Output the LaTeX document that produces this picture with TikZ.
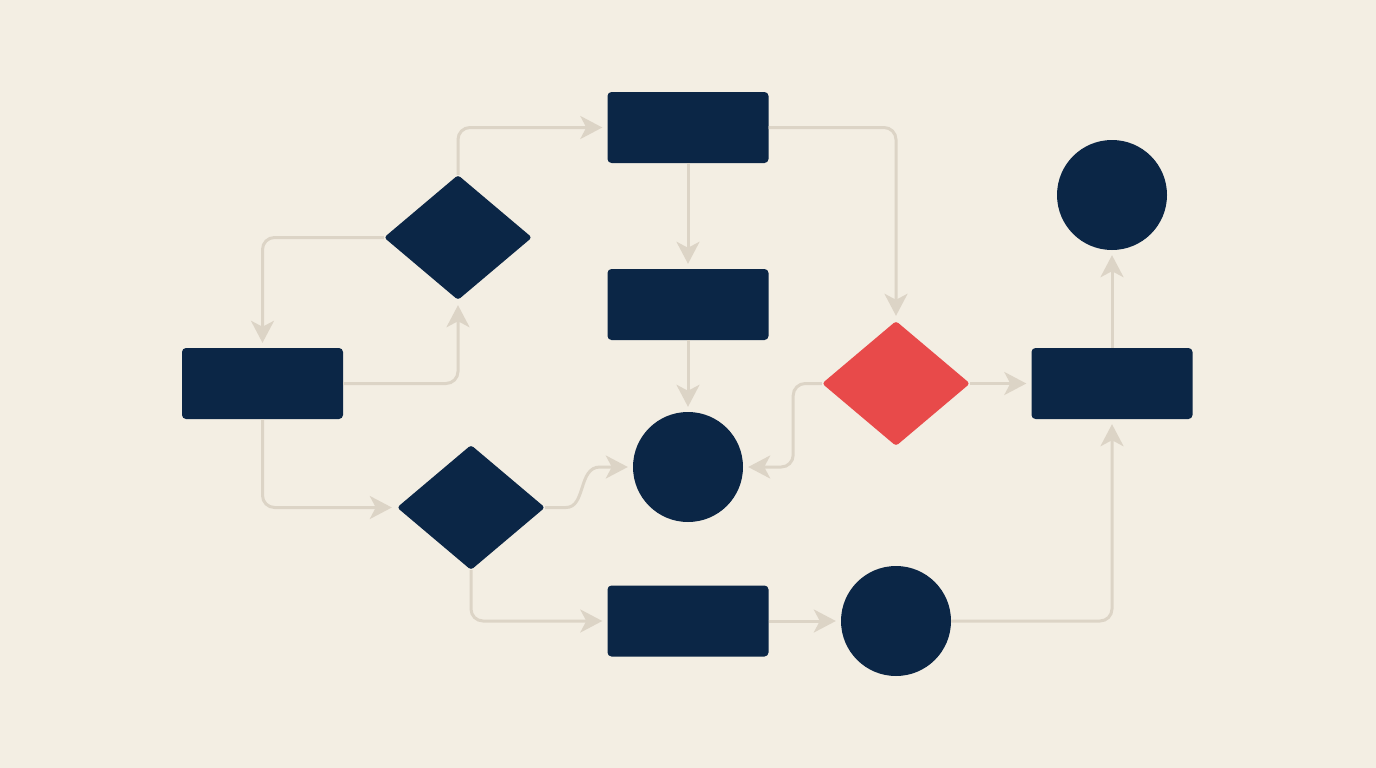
\documentclass[tikz,border=0pt]{standalone}
\usetikzlibrary{shapes.geometric,arrows.meta,calc}
\definecolor{bgc}{HTML}{F3EEE3}
\definecolor{navy}{HTML}{0B2646}
\definecolor{redc}{HTML}{E84A4A}
\definecolor{linec}{HTML}{DCD4C6}
\tikzset{
  box/.style={fill=navy, draw=none, rounded corners=4pt, minimum width=161pt, minimum height=71pt, inner sep=0pt},
  dmd/.style={diamond, fill=navy, draw=none, rounded corners=3pt, minimum width=148pt, minimum height=125pt, inner sep=0pt},
  rdmd/.style={dmd, fill=redc},
  circ/.style={circle, fill=navy, draw=none, minimum size=110pt, inner sep=0pt},
  conn/.style={draw=linec, line width=3pt, rounded corners=12pt, shorten >=5pt,
    -{Stealth[length=22pt,width=23pt,inset=6pt]}},
}
\begin{document}
\begin{tikzpicture}[x=1pt,y=-1pt]
\fill[bgc] (0,0) rectangle (1376,768);
\useasboundingbox (0,0) rectangle (1376,768);
% nodes
\node[box] (rA) at (262.5,383.5) {};
\node[box] (rB) at (688,127.5) {};
\node[box] (rC) at (688,304.5) {};
\node[box] (rD) at (688,621) {};
\node[box] (rE) at (1112,383.5) {};
\node[dmd] (d1) at (458,237.5) {};
\node[dmd] (d2) at (471,507.5) {};
\node[rdmd] (dR) at (896,383.5) {};
\node[circ] (c1) at (688,467) {};
\node[circ] (c2) at (896,621) {};
\node[circ] (c3) at (1112,195) {};
% connectors
\draw[conn] (rA.east) -| (d1.south);
\draw[conn] (d1.west) -| (rA.north);
\draw[conn] (d1.north) |- (rB.west);
\draw[conn] (rB.east) -| (dR.north);
\draw[conn] (rB.south) -- (rC.north);
\draw[conn] (rC.south) -- (c1.north);
\draw[conn] (dR.west) -| ([xshift=50pt]c1.east) -- (c1.east);
\draw[conn, rounded corners=0pt] (d2.east) -- (566,507.5) .. controls (586,507.5) and (578,467) .. (600,467) -- (c1.west);
\draw[conn] (rA.south) |- (d2.west);
\draw[conn] (d2.south) |- (rD.west);
\draw[conn] (rD.east) -- (c2.west);
\draw[conn] (c2.east) -| (rE.south);
\draw[conn] (dR.east) -- (rE.west);
\draw[conn] (rE.north) -- (c3.south);
\end{tikzpicture}
\end{document}
